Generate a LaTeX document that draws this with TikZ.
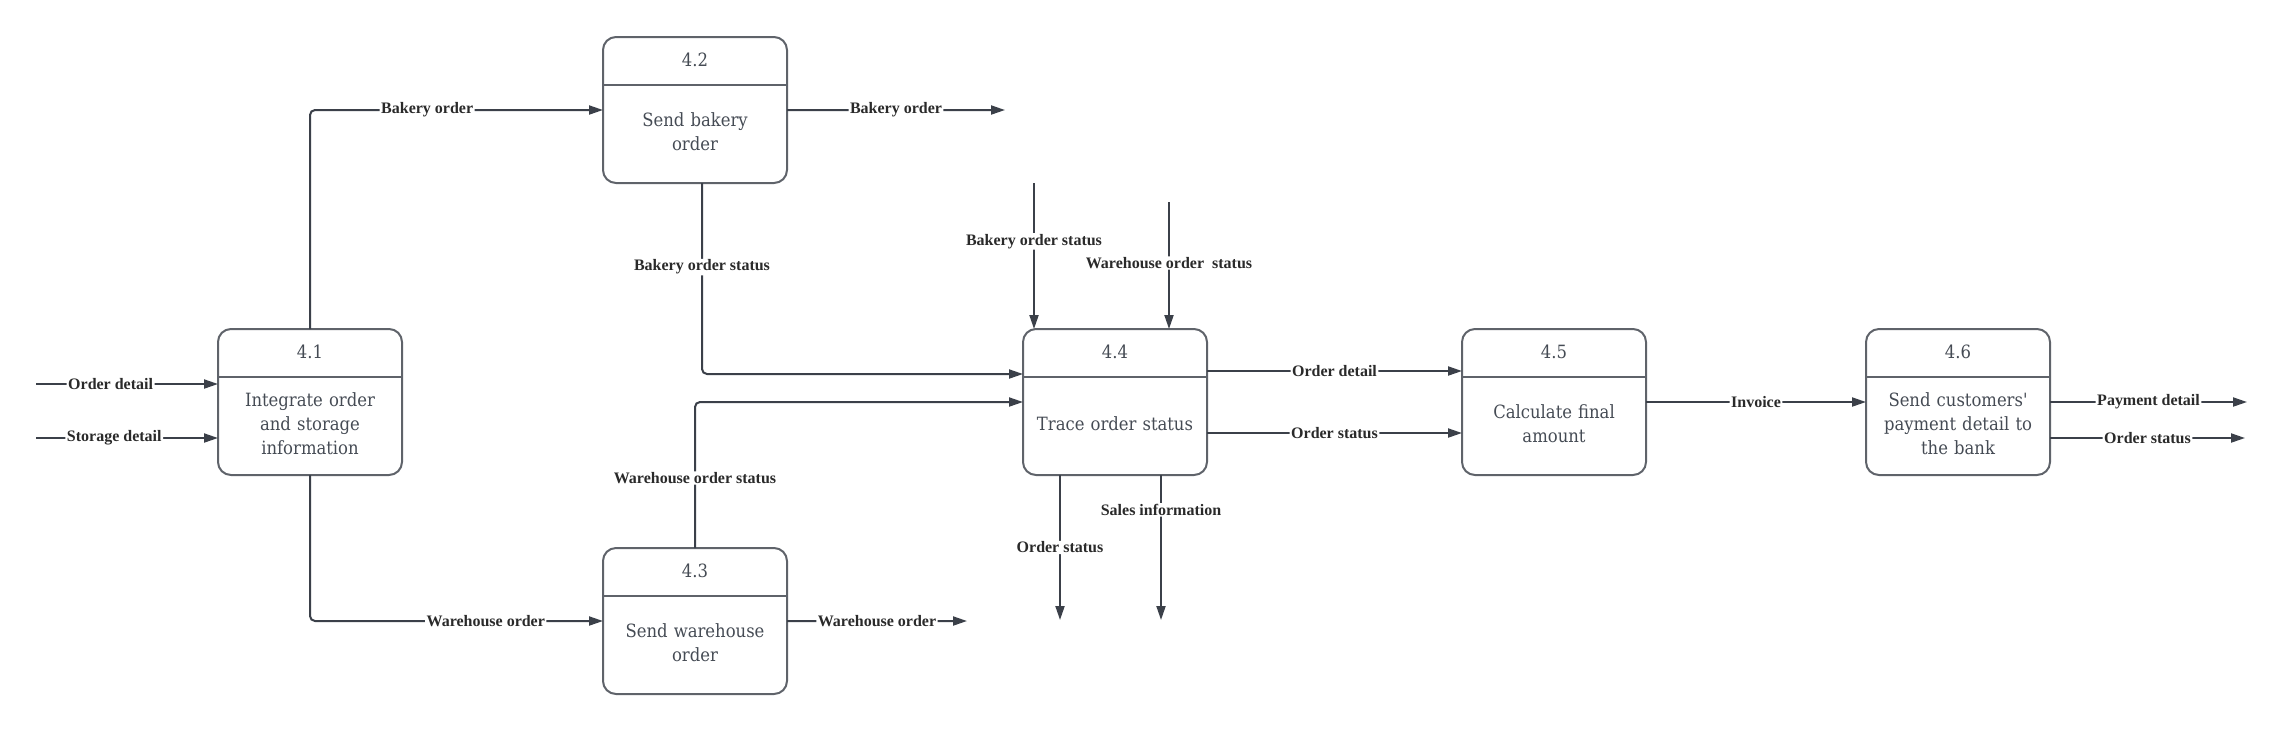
\documentclass[tikz,border=0pt]{standalone}
\usepackage{fontspec}
\newfontfamily\boxfont{DejaVu Serif Condensed}
\newfontfamily\flowfont{Liberation Serif}
\usetikzlibrary{arrows.meta,positioning,calc}
\definecolor{boxline}{HTML}{5F636A}
\definecolor{flowline}{HTML}{3B4049}
\definecolor{boxtext}{HTML}{454B54}
\definecolor{flowtext}{HTML}{2A2A2A}

\begin{document}
\begin{tikzpicture}[
    node distance=4.02cm,
    proc/.style={rectangle, draw=boxline, line width=0.04cm, rounded corners=0.26cm, minimum width=3.68cm, minimum height=2.92cm, text width=3.5cm, align=center, inner sep=0pt, outer sep=0pt, font=\boxfont\fontsize{10.4}{13.7}\selectfont, text=boxtext, execute at begin node={\rule{0pt}{1.14cm}}, path picture={\draw[boxline, line width=0.04cm] ([yshift=-0.96cm]path picture bounding box.north west) -- ([yshift=-0.96cm]path picture bounding box.north east);}, label={[num]north:#1}},
    num/.style={anchor=center, yshift=-0.46cm, inner sep=0pt, font=\boxfont\fontsize{10.4}{12}\selectfont, text=boxtext},
    lbl/.style={fill=white, inner xsep=0.03cm, inner ysep=0.02cm, font=\flowfont\bfseries\fontsize{9.1}{11}\selectfont, text=flowtext},
    arrow/.style={->, >={Triangle[length=0.28cm, width=0.18cm]}, draw=flowline, line width=0.04cm, rounded corners=0.1cm}
]
    \useasboundingbox (0,0) rectangle (45.82,-14.74);

    \node[proc=4.1] (p41) at (6.20,-8.04) {Integrate order\\and storage\\information};
    \node[proc=4.2, above right=2.92cm and 4.02cm of p41] (p42) {Send bakery\\order};
    \node[proc=4.3, below right=1.46cm and 4.02cm of p41] (p43) {Send warehouse\\order};
    \node[proc=4.4, right=12.42cm of p41] (p44) {Trace order status};
    \node[proc=4.5, right=5.10cm of p44] (p45) {Calculate final\\amount};
    \node[proc=4.6, right=4.40cm of p45] (p46) {Send customers'\\payment detail to\\the bank};

    % free ends
    \coordinate (od) at (0.72,-7.68);
    \coordinate (sd) at (0.72,-8.76);
    \coordinate (bo) at (20.10,-2.20);
    \coordinate (wo) at (19.34,-12.42);
    \coordinate (bs) at (20.68,-3.66);
    \coordinate (ws) at (23.38,-4.04);
    \coordinate (os) at (21.20,-12.40);
    \coordinate (si) at (23.22,-12.40);
    \coordinate (pd) at (44.94,-8.04);
    \coordinate (ps) at (44.90,-8.76);

    \draw[arrow] (od) -- node[lbl, pos=0.41] {Order detail} (od -| p41.west);
    \draw[arrow] (sd) -- node[lbl, pos=0.43] {Storage detail} (sd -| p41.west);
    \draw[arrow] (p41.north) |- node[lbl, pos=0.70] {Bakery order} (p42.west);
    \draw[arrow] (p41.south) |- node[lbl, pos=0.80] {Warehouse order} (p43.west);
    \draw[arrow] (p42.east) -- node[lbl] {Bakery order} (bo);
    \draw[arrow] (p43.east) -- node[lbl] {Warehouse order} (wo);
    \draw[arrow] ([xshift=0.14cm]p42.south) |- node[lbl, pos=0.22] {Bakery order status} ([yshift=0.56cm]p44.west);
    \draw[arrow] (p43.north) |- node[lbl, pos=0.24] {Warehouse order status} (p44.west);
    \draw[arrow] (bs) -- node[lbl, pos=0.40] {Bakery order status} (bs |- p44.north);
    \draw[arrow] (ws) -- node[lbl, pos=0.48] {Warehouse order\ \ status} (ws |- p44.north);
    \draw[arrow] (os |- p44.south) -- node[lbl] {Order status} (os);
    \draw[arrow] (si |- p44.south) -- node[lbl, pos=0.24] {Sales information} (si);
    \draw[arrow] ([yshift=0.62cm]p44.east) -- node[lbl] {Order detail} ([yshift=0.62cm]p45.west);
    \draw[arrow] ([yshift=-0.62cm]p44.east) -- node[lbl] {Order status} ([yshift=-0.62cm]p45.west);
    \draw[arrow] (p45) -- node[lbl] {Invoice} (p46);
    \draw[arrow] (p46.east) -- node[lbl] {Payment detail} (pd);
    \draw[arrow] (ps -| p46.east) -- node[lbl] {Order status} (ps);
\end{tikzpicture}
\end{document}
